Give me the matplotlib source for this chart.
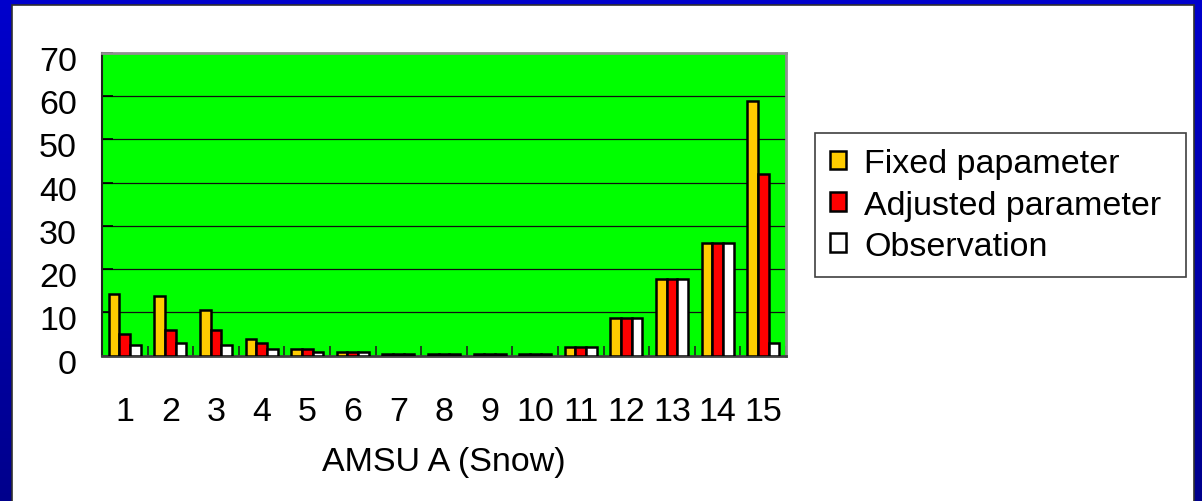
import numpy as np
import matplotlib
matplotlib.use("Agg")
import matplotlib.pyplot as plt
from matplotlib.patches import Rectangle
from matplotlib.transforms import ScaledTranslation

plt.rcParams['font.family'] = ['Liberation Sans', 'DejaVu Sans']

categories = [str(i) for i in range(1, 16)]
fixed = [14.3, 13.7, 10.6, 3.9, 1.4, 0.9, 0.3, 0.3, 0.3, 0.3, 2.0, 8.7, 17.8, 26.1, 58.9]
adjusted = [5.0, 6.0, 6.0, 2.9, 1.4, 0.9, 0.3, 0.3, 0.3, 0.3, 2.0, 8.7, 17.8, 26.1, 42.0]
observation = [2.4, 2.9, 2.4, 1.4, 0.9, 0.9, 0.3, 0.3, 0.3, 0.3, 2.0, 8.7, 17.8, 26.1, 2.8]
series_names = ["Fixed papameter", "Adjusted parameter", "Observation"]
xlabel = "AMSU A (Snow)"
yticks = [0, 10, 20, 30, 40, 50, 60, 70]

W, H = 1202, 502
fig = plt.figure(figsize=(W / 100, H / 100), dpi=100)

# blue gradient background
bg = fig.add_axes([0, 0, 1, 1], zorder=-10)
grad = np.linspace(0, 1, 256).reshape(-1, 1)
top = np.array([0, 0, 205]) / 255
bot = np.array([0, 0, 140]) / 255
img = top[None, None, :] * (1 - grad[:, :, None]) + bot[None, None, :] * grad[:, :, None]
bg.imshow(img, aspect='auto', extent=[0, 1, 0, 1], origin='upper')
bg.add_patch(Rectangle((12 / W, -0.01), (1194 - 12) / W, 1 - 6 / H + 0.01,
                       facecolor='white', edgecolor='#303030', lw=1.2))
bg.set_xlim(0, 1); bg.set_ylim(0, 1)
bg.axis('off')

L, R, T, B = 102, 786, 54, 356.5
ax = fig.add_axes([L / W, 1 - B / H, (R - L) / W, (B - T) / H])
ax.set_facecolor('#00FF00')

x = np.arange(len(categories))
w = 0.234
colors = ['#FFCC00', '#FF0000', '#FFFFFF']
for i, (vals, c, name) in enumerate(zip([fixed, adjusted, observation], colors, series_names)):
    ax.bar(x + (i - 1) * w, vals, width=w, color=c, edgecolor='black', linewidth=1.8,
           label=name, zorder=3)

ax.set_xlim(-0.5, len(categories) - 0.5)
ax.set_ylim(0, 70)
ax.set_yticks(yticks)
ax.set_yticklabels([str(v) for v in yticks])
ax.set_xticks(x)
ax.set_xticklabels(categories)
ax.set_xticks(np.arange(len(categories) + 1) - 0.5, minor=True)
ax.tick_params(axis='x', which='major', length=0, pad=29, labelsize=24.5)
ax.tick_params(axis='x', which='minor', direction='in', length=7, width=1.2, color='#202020')
ax.tick_params(axis='y', direction='in', length=8, width=1.2, pad=18, labelsize=24.5)
off = ScaledTranslation(0, -5 / 100, fig.dpi_scale_trans)
for lab in ax.get_yticklabels():
    lab.set_transform(lab.get_transform() + off)
for v in yticks[1:-1]:
    ax.axhline(v, color='#101010', lw=0.9, zorder=1)

ax.spines['top'].set_color('#909090'); ax.spines['top'].set_linewidth(2)
ax.spines['right'].set_color('#909090'); ax.spines['right'].set_linewidth(2)
ax.spines['left'].set_color('#202020'); ax.spines['left'].set_linewidth(1.5)
ax.spines['bottom'].set_color('#404040'); ax.spines['bottom'].set_linewidth(2)

fig.text((L + R) / 2 / W, 1 - 471 / H, xlabel, ha='center', va='baseline', fontsize=24.5)

lx0, lx1, ly0, ly1 = 815, 1186, 134, 275
leg = ax.legend(loc='upper left', mode='expand',
                bbox_to_anchor=(lx0 / W, 1 - ly1 / H, (lx1 - lx0) / W, (ly1 - ly0) / H),
                bbox_transform=fig.transFigure,
                fontsize=24.5, frameon=True, fancybox=False, handlelength=0.45, handleheight=0.45,
                handletextpad=0.55, borderpad=0.45, labelspacing=0.3, borderaxespad=0)
leg.get_frame().set_edgecolor('#404040')
leg.get_frame().set_linewidth(1.2)
leg.get_frame().set_alpha(None)
for h in leg.legend_handles:
    h.set_linewidth(1.8)

fig.savefig('out.png', dpi=100)
